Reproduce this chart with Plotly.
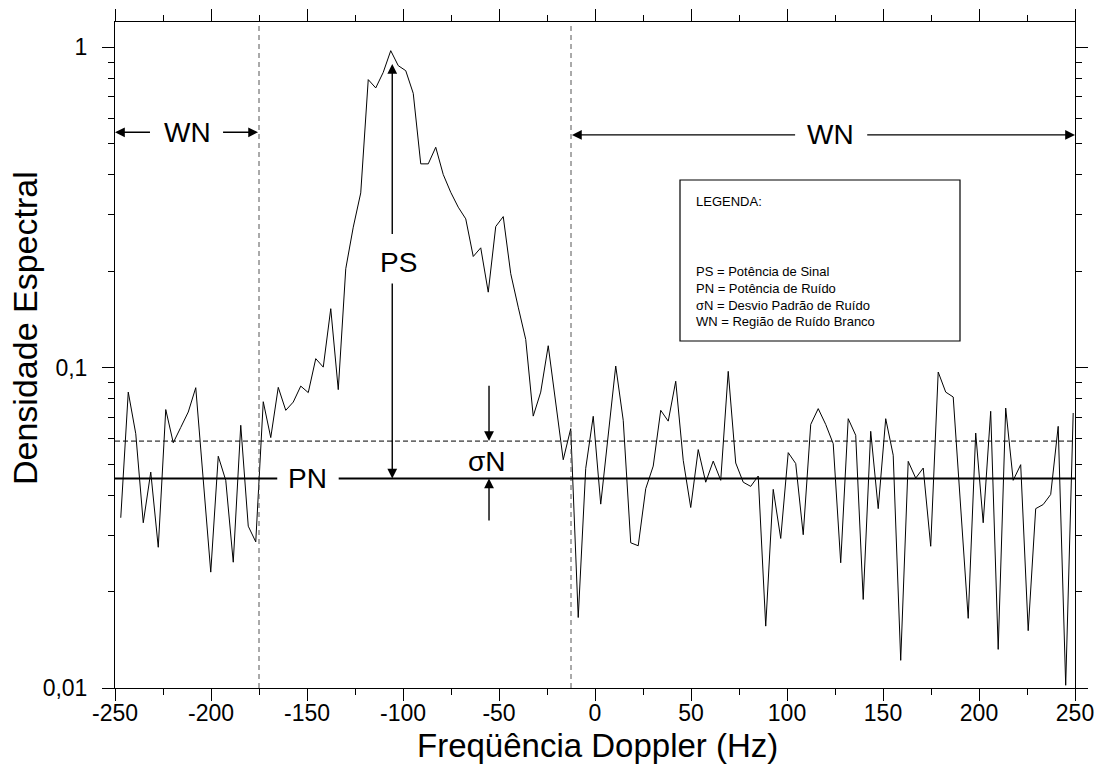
import math
import plotly.graph_objects as go

# ---------------- data ----------------
freq_start = -247.0
freq_step = 3.906
spectrum = [
    0.0340, 0.0839, 0.0622, 0.0328, 0.0472, 0.0275, 0.0740, 0.0583, 0.0651, 0.0727,
    0.0866, 0.0445, 0.0230, 0.0529, 0.0445, 0.0247, 0.0661, 0.0320, 0.0286, 0.0783,
    0.0605, 0.0868, 0.0736, 0.0781, 0.0876, 0.0836, 0.1067, 0.1004, 0.1528, 0.0854,
    0.2036, 0.2746, 0.3513, 0.7931, 0.7470, 0.8356, 0.9766, 0.8768, 0.8457, 0.7186,
    0.4328, 0.4328, 0.4877, 0.4009, 0.3528, 0.3170, 0.2915, 0.2224, 0.2367, 0.1721,
    0.2759, 0.2963, 0.1965, 0.1545, 0.1225, 0.0706, 0.0839, 0.1171, 0.0791, 0.0516,
    0.0645, 0.0166, 0.0485, 0.0705, 0.0375, 0.0607, 0.1012, 0.0685, 0.0284, 0.0278,
    0.0419, 0.0493, 0.0736, 0.0681, 0.0907, 0.0514, 0.0366, 0.0555, 0.0439, 0.0511,
    0.0445, 0.0974, 0.0504, 0.0439, 0.0426, 0.0459, 0.0156, 0.0417, 0.0293, 0.0543,
    0.0502, 0.0301, 0.0665, 0.0745, 0.0665, 0.0579, 0.0246, 0.0693, 0.0615, 0.0189,
    0.0633, 0.0363, 0.0693, 0.0533, 0.0122, 0.0510, 0.0452, 0.0486, 0.0277, 0.0969,
    0.0839, 0.0810, 0.0354, 0.0165, 0.0625, 0.0328, 0.0731, 0.0132, 0.0748, 0.0445,
    0.0498, 0.0151, 0.0363, 0.0374, 0.0402, 0.0656, 0.0102, 0.0722,
]
freq = [freq_start + freq_step * i for i in range(len(spectrum))]

pn_level = 0.0451          # Potência de ruído
sigma_level = 0.059        # PN + desvio padrão
wn_bounds = [-175.0, -12.5]
x_ticks = [-250, -200, -150, -100, -50, 0, 50, 100, 150, 200, 250]
x_ticklabels = ["-250", "-200", "-150", "-100", "-50", "0", "50", "100", "150",
                "200", "250"]
x_minor = [-225, -175, -125, -75, -25, 25, 75, 125, 175, 225]
y_ticks = [0.01, 0.1, 1]
y_ticklabels = ["0,01", "0,1", "1"]
y_minor = [0.02, 0.03, 0.04, 0.05, 0.06, 0.07, 0.08, 0.09,
           0.2, 0.3, 0.4, 0.5, 0.6, 0.7, 0.8, 0.9]
y_top = 1.2

FONT = "Liberation Sans, Arial, sans-serif"
L = math.log10

fig = go.Figure()

fig.add_trace(go.Scatter(x=freq, y=spectrum, mode="lines",
                         line=dict(color="black", width=1), showlegend=False,
                         hoverinfo="skip"))
for xb in wn_bounds:
    fig.add_trace(go.Scatter(x=[xb, xb], y=[0.01, y_top], mode="lines",
                             line=dict(color="#555555", width=1, dash="5px,4px"),
                             showlegend=False, hoverinfo="skip"))
fig.add_trace(go.Scatter(x=[-250, 250], y=[sigma_level, sigma_level], mode="lines",
                         line=dict(color="black", width=1, dash="5px,3px"),
                         showlegend=False, hoverinfo="skip"))
fig.add_trace(go.Scatter(x=[-250, -165.5, None, -133.5, 250],
                         y=[pn_level, pn_level, None, pn_level, pn_level],
                         mode="lines", line=dict(color="black", width=2),
                         showlegend=False, hoverinfo="skip", connectgaps=False))
fig.add_trace(go.Scatter(x=[0], y=[0.1], xaxis="x2", yaxis="y2", mode="markers",
                         marker=dict(opacity=0), showlegend=False, hoverinfo="skip"))

annotations = []


def arrow(x_tail, y_tail, x_tip, y_tip):
    annotations.append(dict(
        x=x_tip, y=L(y_tip), ax=x_tail, ay=L(y_tail), xref="x", yref="y",
        axref="x", ayref="y", text="", showarrow=True, arrowhead=2,
        arrowsize=1.4, arrowwidth=1.4, arrowcolor="black", standoff=0,
        startstandoff=0))


def label(x, y, txt, size=28):
    annotations.append(dict(x=x, y=L(y), xref="x", yref="y", text=txt,
                            showarrow=False, font=dict(family=FONT, size=size,
                                                       color="black"),
                            xanchor="center", yanchor="middle"))


label(-212.5, 0.543, "WN")
arrow(-231, 0.543, -250, 0.543)
arrow(-194.5, 0.543, -175.5, 0.543)
label(122.5, 0.533, "WN")
arrow(105, 0.533, -12.0, 0.533)
arrow(141, 0.533, 250, 0.533)
label(-102.5, 0.213, "PS")
arrow(-105.6, 0.2587, -105.6, 0.888)
arrow(-105.6, 0.185, -105.6, pn_level)
label(-149.5, pn_level, "PN")
label(-56.3, 0.0508, "σN")
arrow(-55.2, 0.0887, -55.2, sigma_level)
arrow(-55.2, 0.033, -55.2, pn_level)

PX0, PW, PY1, PH = 115, 960, 688, 666


def px(xp):
    return (xp - PX0) / PW


def py(yp):
    return (PY1 - yp) / PH


legend_lines = [("LEGENDA:", 201),
                ("PS = Potência de Sinal", 271),
                ("PN = Potência de Ruído", 288),
                ("σN = Desvio Padrão de Ruído", 305),
                ("WN = Região de Ruído Branco", 322)]
for txt, yp in legend_lines:
    annotations.append(dict(x=px(694), y=py(yp), xref="paper", yref="paper",
                            text=txt, showarrow=False, xanchor="left",
                            yanchor="middle",
                            font=dict(family=FONT, size=13, color="black")))

annotations.append(dict(x=px(597), y=py(745), xref="paper", yref="paper",
                        text="Freqüência Doppler (Hz)", showarrow=False,
                        xanchor="center", yanchor="middle",
                        font=dict(family=FONT, size=33, color="black")))
annotations.append(dict(x=px(25), y=py(328), xref="paper", yref="paper",
                        text="Densidade Espectral", showarrow=False, textangle=-90,
                        xanchor="center", yanchor="middle",
                        font=dict(family=FONT, size=34, color="black")))

shapes = [dict(type="rect", xref="paper", yref="paper",
               x0=px(680), x1=px(960), y0=py(341), y1=py(180),
               line=dict(color="black", width=1.2), fillcolor="white", layer="below")]

axis_common = dict(showline=True, linecolor="black", linewidth=1, ticks="outside",
                   ticklen=12, tickwidth=1, tickcolor="black", showgrid=False,
                   zeroline=False, automargin=False,
                   tickfont=dict(family=FONT, size=23, color="black"))
minor_common = dict(tickmode="array", ticks="outside", ticklen=6, tickwidth=1,
                    tickcolor="black", showgrid=False)

fig.update_layout(
    template="none",
    width=1099, height=766,
    margin=dict(l=115, r=24, t=22, b=78, pad=0, autoexpand=False),
    paper_bgcolor="white", plot_bgcolor="white",
    showlegend=False,
    xaxis=dict(range=[-250, 250], tickmode="array", tickvals=x_ticks,
               ticktext=x_ticklabels, ticklabelstandoff=-8,
               minor=dict(tickvals=x_minor, **minor_common), **axis_common),
    xaxis2=dict(range=[-250, 250], overlaying="x", side="top", tickmode="array",
                tickvals=x_ticks, showticklabels=False,
                minor=dict(tickvals=x_minor, **minor_common), **axis_common),
    yaxis=dict(type="log", range=[-2, L(y_top)], tickmode="array", tickvals=y_ticks,
               ticktext=y_ticklabels, ticklabelstandoff=10,
               minor=dict(tickvals=y_minor, **minor_common), **axis_common),
    yaxis2=dict(type="log", range=[-2, L(y_top)], overlaying="y", side="right",
                tickmode="array", tickvals=y_ticks, showticklabels=False,
                minor=dict(tickvals=y_minor, **minor_common), **axis_common),
    annotations=annotations,
    shapes=shapes,
)

fig.write_html("out.html")
